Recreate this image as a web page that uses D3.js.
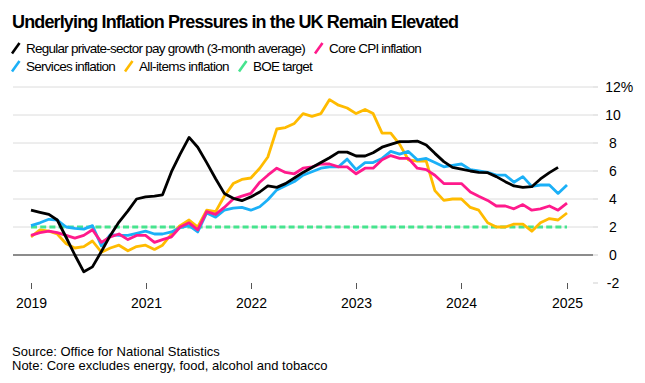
<!DOCTYPE html>
<html>
<head>
<meta charset="utf-8">
<script src="https://cdn.jsdelivr.net/npm/d3@7"></script>
<style>
  html, body { margin: 0; padding: 0; background: #fff; }
  svg { display: block; font-family: "Liberation Sans", Arial, sans-serif; }
</style>
</head>
<body>
<svg id="chart" width="645" height="383"></svg>
<script>
// ---------- DATA ----------
const startMonth = "2019-12"; // first observation (Dec 2019)
const payGrowth = [3.2, 3.05, 2.9, 2.5, 1.25, 0.0, -1.2, -0.85, 0.25, 1.4, 2.35, 3.15, 4.0, 4.15, 4.2, 4.3,
  5.95, 7.2, 8.4, 7.7, 6.6, 5.45, 4.4, 4.05, 3.88, 4.15, 4.5, 4.93, 4.83, 5.1, 5.5, 5.9, 6.25, 6.6, 6.95,
  7.35, 7.35, 7.07, 7.07, 7.3, 7.7, 7.9, 8.1, 8.1, 8.14, 7.86, 7.26, 6.67, 6.26, 6.14, 6.0, 5.9, 5.88, 5.6,
  5.24, 4.93, 4.83, 4.88, 5.43, 5.88, 6.26];
const coreCPI = [1.4, 1.6, 1.7, 1.6, 1.4, 1.2, 1.4, 1.8, 0.9, 1.3, 1.5, 1.1, 1.4, 1.4, 0.9, 1.1, 1.3, 2.0,
  2.3, 1.8, 3.1, 2.9, 3.4, 4.0, 4.2, 4.4, 5.2, 5.7, 6.2, 5.9, 5.8, 6.2, 6.3, 6.5, 6.5, 6.3, 6.3, 5.8, 6.2,
  6.2, 6.8, 7.1, 6.9, 6.9, 6.2, 6.1, 5.7, 5.1, 5.1, 5.1, 4.5, 4.2, 3.9, 3.5, 3.5, 3.3, 3.6, 3.2, 3.3, 3.5,
  3.2, 3.7];
const servicesCPI = [2.1, 2.3, 2.55, 2.5, 2.0, 1.9, 1.85, 2.1, 0.65, 1.45, 1.4, 1.4, 1.55, 1.7, 1.5, 1.5,
  1.65, 1.95, 2.1, 1.65, 3.0, 2.7, 3.2, 3.35, 3.4, 3.2, 3.45, 3.95, 4.65, 4.95, 5.25, 5.7, 5.95, 6.2, 6.3,
  6.3, 6.85, 6.1, 6.6, 6.6, 6.9, 7.4, 7.2, 7.4, 6.8, 6.9, 6.6, 6.3, 6.4, 6.5, 6.1, 6.0, 5.9, 5.7, 5.7, 5.2,
  5.6, 4.9, 5.0, 5.0, 4.4, 5.0];
const allItemsCPI = [1.3, 1.8, 1.7, 1.5, 0.8, 0.5, 0.6, 1.0, 0.2, 0.5, 0.7, 0.3, 0.6, 0.7, 0.4, 0.7, 1.5,
  2.1, 2.5, 2.0, 3.2, 3.1, 4.2, 5.1, 5.4, 5.5, 6.2, 7.0, 9.0, 9.1, 9.4, 10.1, 9.9, 10.1, 11.1, 10.7, 10.5,
  10.1, 10.4, 10.1, 8.7, 8.7, 7.9, 6.8, 6.7, 6.7, 4.6, 3.9, 4.0, 4.0, 3.4, 3.2, 2.3, 2.0, 2.0, 2.2, 2.2,
  1.7, 2.3, 2.6, 2.5, 3.0];
const boeTarget = 2;
const yTicks = [-2, 0, 2, 4, 6, 8, 10, 12];
const xTickMonths = ["2019-12", "2021-01", "2022-01", "2023-01", "2024-01", "2025-01"];
const xTickLabels = ["2019", "2021", "2022", "2023", "2024", "2025"];
const seriesNames = ["Regular private-sector pay growth (3-month average)", "Core CPI inflation",
  "Services inflation", "All-items inflation", "BOE target"];
const titleText = "Underlying Inflation Pressures in the UK Remain Elevated";
const sourceText = "Source: Office for National Statistics";
const noteText = "Note: Core excludes energy, food, alcohol and tobacco";

// ---------- SETUP ----------
const parseMonth = d3.timeParse("%Y-%m");
const t0 = parseMonth(startMonth);
const dateAt = i => d3.timeMonth.offset(t0, i);
const toPoints = arr => arr.map((v, i) => ({ date: dateAt(i), value: v }));

const colors = { pay: "#000000", core: "#ff1a8c", services: "#1bb0f7", all: "#ffbb00", boe: "#46e48e" };

const svg = d3.select("#chart");
const x = d3.scaleTime().domain([parseMonth("2019-12"), parseMonth("2025-01")]).range([31, 567]);
const y = d3.scaleLinear().domain([-2, 12]).range([283, 87]);
const gridX0 = 13, gridX1 = 593;

// fit a text to a target width by tightening letter spacing (real layout, no distortion)
function fitSpacing(sel, w) {
  const L = sel.node().getComputedTextLength();
  const n = sel.text().length;
  if (L > w && n > 1) sel.attr("letter-spacing", ((w - L) / n).toFixed(3) + "px");
}

// title
const title = svg.append("text").attr("x", 12).attr("y", 28)
  .attr("font-size", 18).attr("font-weight", "bold").attr("fill", "#000").text(titleText);
fitSpacing(title, 446);

// legend
const legendItems = [
  { name: seriesNames[0], color: colors.pay, ix: 12, tx: 26, y: 53, w: 279 },
  { name: seriesNames[1], color: colors.core, ix: 315, tx: 329, y: 53, w: 92 },
  { name: seriesNames[2], color: colors.services, ix: 12, tx: 26, y: 71, w: 89 },
  { name: seriesNames[3], color: colors.all, ix: 125, tx: 139, y: 71, w: 90 },
  { name: seriesNames[4], color: colors.boe, ix: 239, tx: 253, y: 71, w: 59 }
];
const lg = svg.append("g");
legendItems.forEach(d => {
  lg.append("line").attr("x1", d.ix).attr("y1", d.y + 0.5).attr("x2", d.ix + 7.5).attr("y2", d.y - 10)
    .attr("stroke", d.color).attr("stroke-width", 2.6);
  const t = lg.append("text").attr("x", d.tx).attr("y", d.y).attr("font-size", 13.5).attr("fill", "#000").text(d.name);
  fitSpacing(t, d.w);
});

// gridlines & y labels
const grid = svg.append("g");
yTicks.forEach(v => {
  if (v >= 0) {
    grid.append("line").attr("x1", gridX0).attr("x2", gridX1).attr("y1", y(v)).attr("y2", y(v))
      .attr("stroke", v === 0 ? "#666" : "#dcdcdc").attr("stroke-width", v === 0 ? 1.3 : 1);
  }
  grid.append("line").attr("x1", gridX1).attr("x2", 598).attr("y1", y(v)).attr("y2", y(v))
    .attr("stroke", "#cfcfcf").attr("stroke-width", 1);
  const t = grid.append("text").attr("x", 613).attr("y", y(v)).attr("dy", "0.35em")
    .attr("text-anchor", "middle").attr("font-size", 14).attr("fill", "#000").text(v);
  if (v === yTicks[yTicks.length - 1]) {
    const L = t.node().getComputedTextLength();
    grid.append("text").attr("x", 613 + L / 2).attr("y", y(v)).attr("dy", "0.35em")
      .attr("font-size", 14).attr("fill", "#000").text("%");
  }
});

// x ticks
const xa = svg.append("g");
xTickMonths.forEach((m, i) => {
  const xp = Math.round(x(parseMonth(m))) + 0.5;
  xa.append("line").attr("x1", xp).attr("x2", xp).attr("y1", 283).attr("y2", 289)
    .attr("stroke", "#555").attr("stroke-width", 1);
  xa.append("text").attr("x", xp).attr("y", 308).attr("text-anchor", "middle")
    .attr("font-size", 14).attr("fill", "#000").text(xTickLabels[i]);
});

// lines
const line = d3.line().x(d => x(d.date)).y(d => y(d.value));
const plot = svg.append("g").attr("fill", "none").attr("stroke-width", 2.8)
  .attr("stroke-linejoin", "round").attr("stroke-linecap", "butt");

const boeLine = [{ date: dateAt(0), value: boeTarget }, { date: dateAt(allItemsCPI.length - 1), value: boeTarget }];
plot.append("path").datum(boeLine).attr("d", line).attr("stroke", colors.boe).attr("stroke-dasharray", "6,3.2");
plot.append("path").datum(toPoints(allItemsCPI)).attr("d", line).attr("stroke", colors.all);
plot.append("path").datum(toPoints(servicesCPI)).attr("d", line).attr("stroke", colors.services);
plot.append("path").datum(toPoints(coreCPI)).attr("d", line).attr("stroke", colors.core);
plot.append("path").datum(toPoints(payGrowth)).attr("d", line).attr("stroke", colors.pay);

// footer
svg.append("text").attr("x", 12).attr("y", 356).attr("font-size", 13).attr("fill", "#000").text(sourceText);
svg.append("text").attr("x", 12).attr("y", 370).attr("font-size", 13).attr("fill", "#000").text(noteText);
</script>
</body>
</html>
